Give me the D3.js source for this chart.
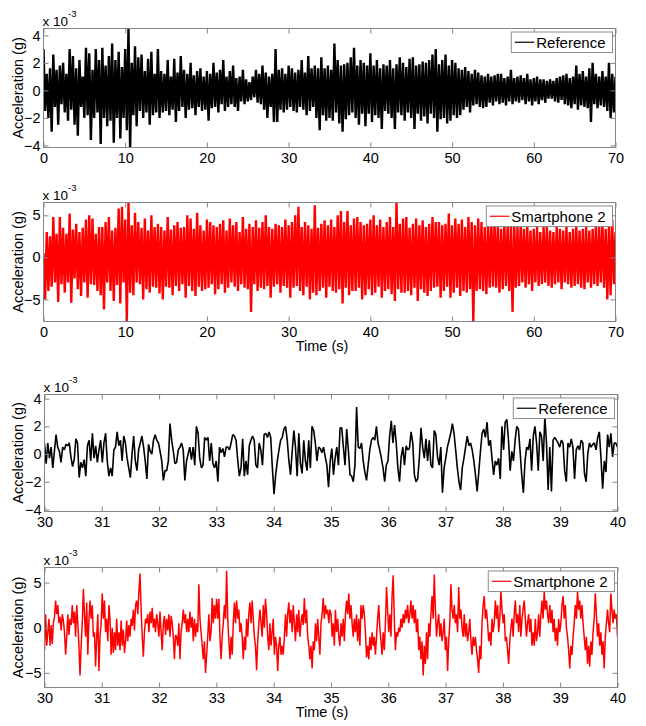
<!DOCTYPE html>
<html>
<head>
<meta charset="UTF-8">
<title>Acceleration records</title>
<style>
body { margin: 0; background: #fff; }
svg { display: block; font-family: "Liberation Sans", Arial, sans-serif; }
.box { fill: none; stroke: #858585; stroke-width: 1; }
.tick line { stroke: #858585; }
.tick text { fill: #000; font-size: 14.5px; }
.legend rect { fill: #fff; stroke: #8c8c8c; }
.legend text { font-size: 15px; }
.ylab, .xlab { font-size: 14.5px; }
</style>
</head>
<body>
<svg width="646" height="726"></svg>
<script src="https://cdn.jsdelivr.net/npm/d3@7"></script>
<script>
// values in units of 1e-3 g
var fullTicks = [0, 10, 20, 30, 40, 50, 60, 70];
var zoomTicks = [30, 31, 32, 33, 34, 35, 36, 37, 38, 39, 40];

// Reference, 0-70 s, one value every 0.2 s
var refFull = [
  3.0,-1.5,1.2,-2.0,1.6, -3.0,2.6,-1.2,1.5,-2.5, 1.8,-1.0,2.0,-1.6,1.2, -2.2,3.0,-1.4,2.5,-2.5,
  1.6,-3.3,2.2,-1.2,1.0, -2.0,3.1,-1.8,2.7,-3.6, 1.5,-2.0,3.0,-1.6,2.2, -3.9,3.1,-2.0,1.8,-2.6,
  2.5,-2.2,3.4,-3.8,2.2, -2.0,2.8,-3.5,1.7,-2.0, 3.0,-2.9,4.5,-4.2,2.0, -1.8,3.2,-2.6,2.4,-1.5,
  2.6,-2.0,1.4,-1.6,2.3, -2.5,2.8,-1.8,1.2,-1.6, 3.0,-2.0,1.4,-1.6,1.2, -1.5,2.2,-1.8,1.0,-1.4,
  2.3,-2.3,1.3,-1.5,2.5, -1.2,1.5,-2.0,1.2,-1.4, 2.0,-1.3,1.1,-1.8,1.4, -1.2,1.6,-1.5,1.0,-1.4,
  1.4,-2.2,1.2,-1.3,2.0, -1.2,1.3,-1.6,1.5,-1.0, 2.2,-1.5,1.0,-1.2,1.4, -1.0,1.8,-1.2,0.9,-1.5,
  1.0,-0.8,1.5,-1.0,0.8, -0.8,0.6,-0.7,1.0,-0.5, 1.5,-0.9,1.2,-1.0,1.8, -1.4,1.3,-2.0,1.0,-1.2,
  1.2,-2.3,3.0,-2.3,1.5, -1.4,1.6,-1.6,1.2,-1.4, 1.8,-1.2,1.6,-1.5,1.3, -1.6,1.5,-1.2,2.2,-1.4,
  1.3,-1.8,2.5,-1.5,1.6, -1.2,1.8,-2.0,1.6,-2.9, 2.4,-1.8,1.6,-2.2,1.8, -2.0,1.5,-2.2,3.4,-1.6,
  2.2,-2.4,1.8,-3.0,1.9, -2.1,2.0,-1.8,2.4,-1.6, 3.1,-2.0,1.8,-2.5,2.2, -1.7,2.0,-2.6,1.8,-1.7,
  2.7,-2.3,1.8,-1.8,2.2, -2.0,1.6,-2.8,1.9,-1.5, 1.8,-1.7,2.2,-2.0,1.6, -2.8,1.9,-1.6,2.4,-1.8,
  2.0,-2.2,1.7,-1.6,2.3, -2.0,2.4,-2.8,1.8,-1.7, 1.9,-2.2,2.1,-1.9,2.0, -2.4,2.2,-1.7,2.6,-2.0,
  3.0,-3.0,1.9,-2.1,2.2, -2.0,2.6,-2.4,1.8,-2.2, 2.2,-1.8,2.0,-2.0,1.6, -1.8,1.5,-1.4,1.7,-1.2,
  1.4,-1.6,1.2,-1.1,1.5, -1.0,1.3,-1.2,1.1,-1.3, 1.0,-1.2,1.2,-0.9,1.0, -1.1,1.1,-0.8,1.2,-1.0,
  1.2,-0.9,0.9,-1.1,1.0, -0.8,1.5,-1.0,0.9,-0.8, 1.0,-0.9,1.1,-0.7,0.9, -1.0,1.2,-0.8,0.8,-1.1,
  0.9,-0.8,1.0,-1.0,0.8, -0.7,0.8,-0.9,0.7,-0.6, 0.8,-0.6,0.7,-0.8,0.9, -0.9,1.0,-0.7,1.1,-1.0,
  1.2,-1.1,0.9,-1.3,1.0, -1.0,1.8,-1.4,1.2,-1.1, 1.4,-1.2,1.0,-1.3,1.6, -2.3,2.0,-1.0,1.2,-1.3,
  1.0,-1.1,1.4,-1.2,1.0, -1.5,2.0,-2.0,1.2,-1.6, 1.0
];

// Smartphone 2, 0-70 s, one value every 0.2 s
var phoneFull = [
  0.5,-5.0,3.0,-4.0,2.5, -3.5,4.8,-3.0,2.8,-5.3, 4.8,-3.2,3.5,-4.2,2.8, -3.0,5.2,-5.4,3.3,-2.5,
  4.0,-3.8,3.0,-4.6,3.5, -3.0,4.5,-4.8,5.0,-3.2, 4.6,-3.3,2.8,-4.0,3.6, -4.5,3.6,-6.2,4.2,-3.0,
  4.8,-4.0,3.2,-5.2,3.5, -3.3,5.8,-5.5,6.0,-3.0, 4.5,-7.6,6.5,-4.2,3.8, -4.5,5.3,-3.0,4.2,-3.2,
  3.5,-5.0,4.6,-3.8,3.2, -4.2,5.0,-3.5,3.6,-3.6, 4.0,-4.3,3.6,-5.0,3.2, -3.5,4.8,-3.6,3.3,-4.5,
  3.8,-3.4,4.2,-4.0,3.5, -3.2,3.6,-4.8,5.0,-3.4, 4.6,-4.0,3.4,-4.6,5.3, -3.5,3.8,-4.0,3.2,-3.8,
  4.5,-3.6,4.2,-3.2,3.8, -4.4,3.6,-3.8,4.0,-3.2, 4.4,-4.2,3.2,-3.6,4.6, -3.0,3.8,-3.5,4.2,-4.0,
  3.0,-3.2,4.8,-3.6,3.4, -3.8,4.0,-6.5,3.6,-3.2, 4.4,-4.0,3.5,-3.6,4.2, -3.8,5.0,-3.4,3.6,-4.8,
  3.4,-3.5,4.0,-3.2,3.8, -4.2,3.6,-3.4,4.5,-3.6, 3.8,-4.8,4.2,-3.6,5.0, -3.4,6.0,-4.0,3.6,-4.5,
  4.2,-3.5,3.8,-5.0,3.4, -4.2,6.2,-4.5,3.5,-4.0, 4.0,-3.6,4.4,-4.8,3.8, -3.5,4.5,-4.0,3.6,-4.2,
  5.0,-3.8,5.5,-5.5,4.2, -3.6,5.5,-4.5,3.8,-4.0, 4.6,-4.0,4.8,-3.6,4.2, -5.0,3.8,-4.5,4.0,-3.8,
  4.5,-4.5,5.0,-4.2,3.8, -3.5,4.5,-4.8,3.6,-4.0, 4.2,-3.8,4.8,-4.4,3.6, -5.2,6.5,-3.8,4.0,-4.2,
  4.6,-4.2,4.8,-4.0,3.5, -4.5,4.0,-3.6,4.6,-5.2, 3.8,-3.8,4.4,-4.2,3.6, -4.6,4.0,-4.0,4.8,-3.6,
  4.2,-3.5,4.2,-4.8,3.8, -4.0,4.0,-3.5,5.2,-4.8, 3.8,-4.2,4.6,-3.6,4.0, -4.6,4.5,-4.0,3.6,-4.2,
  4.8,-3.8,4.2,-7.6,3.8, -4.0,4.6,-3.8,4.2,-4.0, 3.6,-4.4,3.8,-3.6,4.6, -3.5,4.2,-3.6,3.8,-4.2,
  3.4,-3.8,4.0,-3.4,3.8, -4.0,3.6,-6.5,4.2,-3.6, 3.6,-3.4,4.0,-3.0,3.4, -3.6,3.8,-3.2,3.2,-4.0,
  3.4,-3.0,3.6,-3.4,3.0, -3.2,3.6,-3.0,3.8,-3.4, 3.2,-3.6,3.0,-3.2,3.6, -3.0,3.4,-3.8,3.2,-3.0,
  3.6,-3.2,3.0,-3.6,3.4, -3.4,3.8,-3.2,3.2,-3.6, 3.4,-3.8,3.6,-3.0,3.2, -3.6,3.4,-3.2,3.8,-3.4,
  3.6,-3.0,4.2,-3.6,3.4, -5.0,3.8,-4.5,4.5,-3.2, 3.0
];

// Reference, 30-40 s
var refZoomA = [
  0.8,-0.7,0.8,-0.3,0.5,-1.0,0.2,1.4,0.5,0.2,-0.6,0.5,0.3,0.7,0.6,0.8,-0.2,-0.9,-0.4,1.1,
  0.8,-1.7,-0.6,-1.0,-0.4,-1.6,0.6,1.0,-0.5,1.5,-0.3,0.6,-0.6,0.3,1.0,-0.6,0.8,1.5,-0.5,-1.6,
  -1.0,-1.6,0.3,0.5,1.6,0.6,1.0,-0.5,1.3,0.8,-0.3,-1.0,-1.7,0.0,1.3,-0.5,-1.2,0.3,0.8,1.3,
  0.5,-0.5,-1.8,0.7,0.2,0.0,1.0,1.4,1.0,0.8,0.2,-0.5,-1.9,-1.2,-1.2,-0.5,2.2,1.0,0.2,-0.7,
  -0.6,0.3,0.5,0.8,0.3,-1.9,-0.5,0.0,0.5,-0.4,0.5,-0.8,2.0,1.5,-0.3,-1.0,-0.8,1.2,1.0,1.2,
  -0.5,0.8,-0.7,-1.0,-0.5,-2.0,0.5,0.1,0.4,-0.2,0.5,0.5,0.3,0.8,1.4,1.3,1.0,-0.4,-1.6,-1.0,
  1.1,-1.6,-0.5,-1.5,0.6,1.0,1.3,1.0,-0.8,-1.0,0.8,0.3,-0.8,1.4,1.5,1.2,1.6,1.2,-1.0,-2.9,
  -1.5,-0.5,0.3,1.0,1.2,1.8,2.0,1.0,-0.5,-1.5,0.2,1.7,0.5,-1.6,1.5,-0.7,-1.4,1.0,-0.5,-1.2,
  1.0,-1.0,2.0,1.7,0.8,-0.5,0.5,0.4,0.1,0.5,-0.2,-0.8,-2.4,-0.5,0.4,-1.5
];
var refZoomB = [
  -0.3,0.5,-0.8,1.9,1.9,0.5,-0.8,1.8,0.3,-1.5,-1.6,-2.0,-0.8,3.4,0.5,0.4,0.8,-0.5,-1.3,-1.9,
  -0.8,0.3,1.0,1.2,1.0,2.0,0.8,0.3,-0.3,-1.0,-2.0,-0.8,-0.5,1.3,2.4,0.8,2.1,0.8,-1.0,-2.0,
  -0.2,0.5,-0.8,0.6,0.3,0.4,1.6,0.8,-1.5,-2.0,-1.8,-0.3,1.9,0.5,-0.3,1.1,-0.5,1.0,-0.8,-1.0,
  1.7,1.4,-0.2,-0.8,0.5,-2.8,-1.0,-0.3,0.5,1.0,1.5,2.2,1.5,0.3,-1.0,-2.0,-2.6,-1.0,-0.3,0.5,
  1.3,0.6,0.8,0.3,-0.5,-1.5,-2.7,-1.3,0.2,1.5,1.8,1.2,2.3,0.6,1.0,-0.3,-1.5,-0.5,-0.8,-0.3,
  -1.8,2.0,0.3,2.3,2.5,1.0,-1.2,0.2,-0.5,1.0,2.0,1.8,0.2,-1.5,-2.8,-0.5,0.5,0.3,1.1,-1.2,
  1.3,2.0,0.8,-1.2,1.6,1.3,-0.5,2.7,0.8,-2.6,0.5,-2.7,1.0,1.2,1.0,0.8,0.5,1.0,0.8,-1.2,
  -2.0,0.8,0.5,1.1,0.5,-1.8,0.3,0.6,0.3,1.0,0.8,-1.4,-2.0,0.0,0.8,0.5,0.7,0.8,0.3,1.2,
  1.6,-0.3,-2.5,-0.5,-1.3,1.4,0.5,1.5,-0.2,0.8,0.8,0.5
];

// Smartphone 2, 30-40 s
var phoneZoomA = [
  -2.5,1.5,-2.0,-0.5,1.0,-2.0,0.3,-1.8,0.5,1.2,3.0,1.5,2.5,0.5,1.2,-0.3,1.5,0.8,-0.5,-3.0,
  -1.0,1.5,-0.8,1.0,0.3,2.5,0.5,1.8,-1.0,2.5,0.5,-2.0,-5.3,-2.0,0.5,4.3,1.5,-1.0,2.8,-3.0,
  0.8,3.0,1.0,2.5,-1.0,-0.5,-4.3,-1.0,1.5,-4.8,-1.0,0.5,3.8,1.0,3.0,-0.5,1.0,-1.5,2.5,1.0,
  -3.0,0.0,-2.8,-0.5,-2.5,1.0,-2.0,-0.5,-2.5,0.8,-2.0,-0.2,-2.8,-1.5,0.8,-1.5,0.3,-1.0,1.0,0.2,
  2.0,-0.3,2.5,3.0,1.5,4.0,6.0,2.0,-1.0,-3.2,-0.5,1.0,0.5,1.5,-0.5,1.8,0.5,2.2,0.0,1.0,
  -0.5,1.5,0.5,-1.0,1.8,-0.5,-2.5,0.5,1.3,-0.8,1.0,-0.3,1.5,-1.0,1.3,0.5,-1.0,-3.5,-0.8,-1.0,
  -2.0,0.5,-3.5,-0.5,0.5,2.0,0.5,1.5,-0.5,1.0,-0.5,1.8,0.0,1.2,-1.5,1.0,-1.0,0.5,-0.5,4.8,
  1.0,-0.5,-2.0,-3.5,-1.5,-5.0,-3.0,-1.0,1.5,-1.5,-0.5,3.3,0.5,2.5,1.0,3.2,1.0,3.2,-1.0,-3.5,
  -1.0,0.5,2.5,1.0,6.3,1.0,-1.5,-3.5,-1.0,-3.0,0.5,2.8,0.5,3.0,1.0,2.0,-0.5,0.5,-1.0,-3.5,
  -1.0,-2.5,1.0,-1.0,1.5,2.8,0.5,3.0,1.0,-1.0,-2.0,-4.7,-1.5,0.5,2.0,0.5,-1.0,2.5,0.0,3.2,
  1.5,-1.0,-2.5,0.5,-2.0,-0.5,1.0,-3.0,-1.0,-2.0,-4.8,-2.0,-1.0,-3.0,-2.0,-3.0,-1.0,1.5,-1.0,1.5,
  2.8,0.5,2.0,-0.5,2.5,0.5,-1.5,1.5,-0.5,2.0,-1.0,0.5,1.5,0.3,3.3,0.5,2.0,-1.0,-2.0,-3.5,
  -2.0,-4.5,-1.5,-2.5,0.5,-1.5,1.0,-1.0,-3.0,0.5,1.5,3.3,1.0,2.5,1.5,2.0,0.5,2.0
];
var phoneZoomB = [
  1.5,-1.0,0.5,-2.0,2.0,-0.5,1.0,-1.0,-2.0,0.5,-1.0,1.0,-1.5,1.5,3.0,1.5,3.8,1.0,2.5,0.5,
  -1.0,1.0,-0.5,1.5,-1.5,1.0,-2.0,2.5,1.0,2.5,1.5,-0.5,-3.3,-2.0,-3.5,-1.0,-2.5,-0.5,-2.0,-1.0,
  -3.0,-1.0,1.0,2.5,0.0,-1.5,-3.0,-0.5,-2.5,0.5,4.5,2.0,-0.5,1.5,-1.0,3.5,5.8,1.0,-2.5,-0.5,
  -1.0,0.0,-0.5,1.0,0.0,1.5,0.5,2.0,1.0,2.5,0.5,1.5,3.0,1.0,2.5,0.5,2.0,-0.5,1.0,-2.5,
  -1.0,-3.5,-1.5,-5.3,-2.0,-4.0,-0.5,-3.5,0.5,-1.0,1.5,3.5,1.0,5.9,2.0,-1.0,0.5,1.5,-1.0,0.5,
  -1.5,-0.5,1.0,-2.5,-1.0,-4.8,-1.5,0.5,4.8,2.0,1.0,2.5,0.5,1.5,-0.5,4.5,1.0,2.0,0.0,-1.0,
  1.5,-1.0,0.5,-1.5,-0.5,1.0,-1.5,-3.0,-1.0,-2.0,-1.0,-2.5,-3.5,-5.0,-2.0,-3.5,0.5,2.5,3.5,1.0,
  2.0,0.5,-1.5,-0.5,-2.0,1.0,-0.5,0.5,3.0,1.0,2.5,-0.5,1.0,4.0,2.0,0.5,1.5,-1.5,-1.0,-2.5,
  -4.0,-1.5,0.0,1.0,-1.0,1.5,3.0,0.5,1.5,-0.5,2.5,-1.0,1.0,2.0,3.0,1.0,-1.0,0.5,1.5,-0.5,
  1.0,-2.0,-0.5,-2.0,1.0,-1.5,-0.5,1.5,-1.0,1.5,3.0,1.0,4.0,2.0,3.0,1.5,0.5,2.5,0.5,2.0,
  -0.5,1.0,-1.5,0.0,-2.0,1.0,-0.5,0.5,2.5,3.5,1.0,2.5,0.0,-1.0,-2.5,-4.5,-2.0,-3.0,-1.0,0.5,
  2.5,1.0,4.0,2.0,3.0,1.0,2.5,0.5,-1.0,-2.5,-1.0,-4.0,-2.0,-4.3,-1.5,-3.0,-0.5,1.0,3.8,1.5,
  -1.0,0.5,-2.0,-0.5,-3.0,-1.5,-4.5,-1.0,0.5,2.0,0.5,-0.5,3.8,2.0,0.5,2.0,1.0,1.5,-1.0
];

var svg = d3.select("svg");

var panels = [
  {data: refFull, span: [0, 70], xTicks: fullTicks, yDom: [-4.15, 4.5], yTicks: [-4, -2, 0, 2, 4],
   color: "#000", name: "Reference", left: 43.5, top: 28.5, right: 615.5, bottom: 147.5, width: 2.4, timeLabel: false},
  {data: phoneFull, span: [0, 70], xTicks: fullTicks, yDom: [-7.63, 6.52], yTicks: [-5, 0, 5],
   color: "#ff0000", name: "Smartphone 2", left: 43.5, top: 202.5, right: 615.5, bottom: 321.5, width: 2.4, timeLabel: true},
  {data: refZoomA.concat(refZoomB), span: [30, 40], xTicks: zoomTicks, yDom: [-4.15, 4.3], yTicks: [-4, -2, 0, 2, 4],
   color: "#000", name: "Reference", left: 44.5, top: 394.5, right: 617.5, bottom: 511.5, width: 1.6, timeLabel: false},
  {data: phoneZoomA.concat(phoneZoomB), span: [30, 40], xTicks: zoomTicks, yDom: [-6.62, 6.67], yTicks: [-5, 0, 5],
   color: "#ff0000", name: "Smartphone 2", left: 44.5, top: 567.5, right: 617.5, bottom: 687.5, width: 1.5, timeLabel: true}
];

panels.forEach(function(p, k) {
  var x = d3.scaleLinear().domain(p.span).range([p.left, p.right]);
  var y = d3.scaleLinear().domain(p.yDom).range([p.bottom, p.top]);
  var dt = (p.span[1] - p.span[0]) / (p.data.length - 1);
  var g = svg.append("g");

  g.append("clipPath").attr("id", "clip" + k)
    .append("rect")
      .attr("x", p.left).attr("y", p.top)
      .attr("width", p.right - p.left).attr("height", p.bottom - p.top);

  var line = d3.line()
      .x(function(d, i) { return x(p.span[0] + i * dt); })
      .y(function(d) { return y(d); });

  g.append("path")
      .datum(p.data)
      .attr("clip-path", "url(#clip" + k + ")")
      .attr("fill", "none")
      .attr("stroke", p.color)
      .attr("stroke-width", p.width)
      .attr("stroke-linejoin", "bevel")
      .attr("d", line);

  // ticks point inwards on all four sides, like a matlab box
  g.append("g").attr("transform", "translate(0," + p.bottom + ")")
      .call(d3.axisBottom(x).tickValues(p.xTicks).tickSizeInner(-5).tickSizeOuter(0).tickPadding(4.8))
      .call(function(a) { a.select(".domain").remove(); });
  g.append("g").attr("transform", "translate(0," + p.top + ")")
      .call(d3.axisTop(x).tickValues(p.xTicks).tickSizeInner(-5).tickSizeOuter(0).tickFormat(""))
      .call(function(a) { a.select(".domain").remove(); });
  g.append("g").attr("transform", "translate(" + p.left + ",0)")
      .call(d3.axisLeft(y).tickValues(p.yTicks).tickSizeInner(-5).tickSizeOuter(0).tickPadding(3))
      .call(function(a) { a.select(".domain").remove(); });
  g.append("g").attr("transform", "translate(" + p.right + ",0)")
      .call(d3.axisRight(y).tickValues(p.yTicks).tickSizeInner(-5).tickSizeOuter(0).tickFormat(""))
      .call(function(a) { a.select(".domain").remove(); });
  g.selectAll(".tick text").attr("font-family", null).attr("font-size", null);

  g.append("rect").attr("class", "box")
      .attr("x", p.left).attr("y", p.top)
      .attr("width", p.right - p.left).attr("height", p.bottom - p.top);

  // exponent label
  var ex = g.append("text")
      .attr("x", p.left - 1).attr("y", p.top - 2.5)
      .attr("font-size", "13.5px")
      .text("x 10");
  ex.append("tspan").attr("dy", -9.5).attr("font-size", "9.5px").text("-3");

  g.append("text").attr("class", "ylab")
      .attr("transform", "translate(23," + ((p.top + p.bottom) / 2) + ") rotate(-90)")
      .attr("text-anchor", "middle")
      .text("Acceleration (g)");

  if (p.timeLabel) {
    g.append("text").attr("class", "xlab")
        .attr("x", 322).attr("y", p.bottom + 29)
        .attr("text-anchor", "middle")
        .text("Time (s)");
  }

  // legend
  var lg = g.append("g").attr("class", "legend");
  var box = lg.append("rect");
  var txt = lg.append("text").attr("y", 0).text(p.name);
  var tw = txt.node().getComputedTextLength();
  var lw = tw + 32, lh = 20.5;
  var lx = p.right - 3 - lw, ly = p.top + 3.5;
  box.attr("x", lx).attr("y", ly).attr("width", lw).attr("height", lh);
  lg.append("line")
      .attr("x1", lx + 3.5).attr("x2", lx + 23)
      .attr("y1", ly + lh / 2).attr("y2", ly + lh / 2)
      .attr("stroke", p.color).attr("stroke-width", 1.2);
  txt.attr("x", lx + 25).attr("y", ly + lh / 2 + 5.3);
});
</script>
</body>
</html>
